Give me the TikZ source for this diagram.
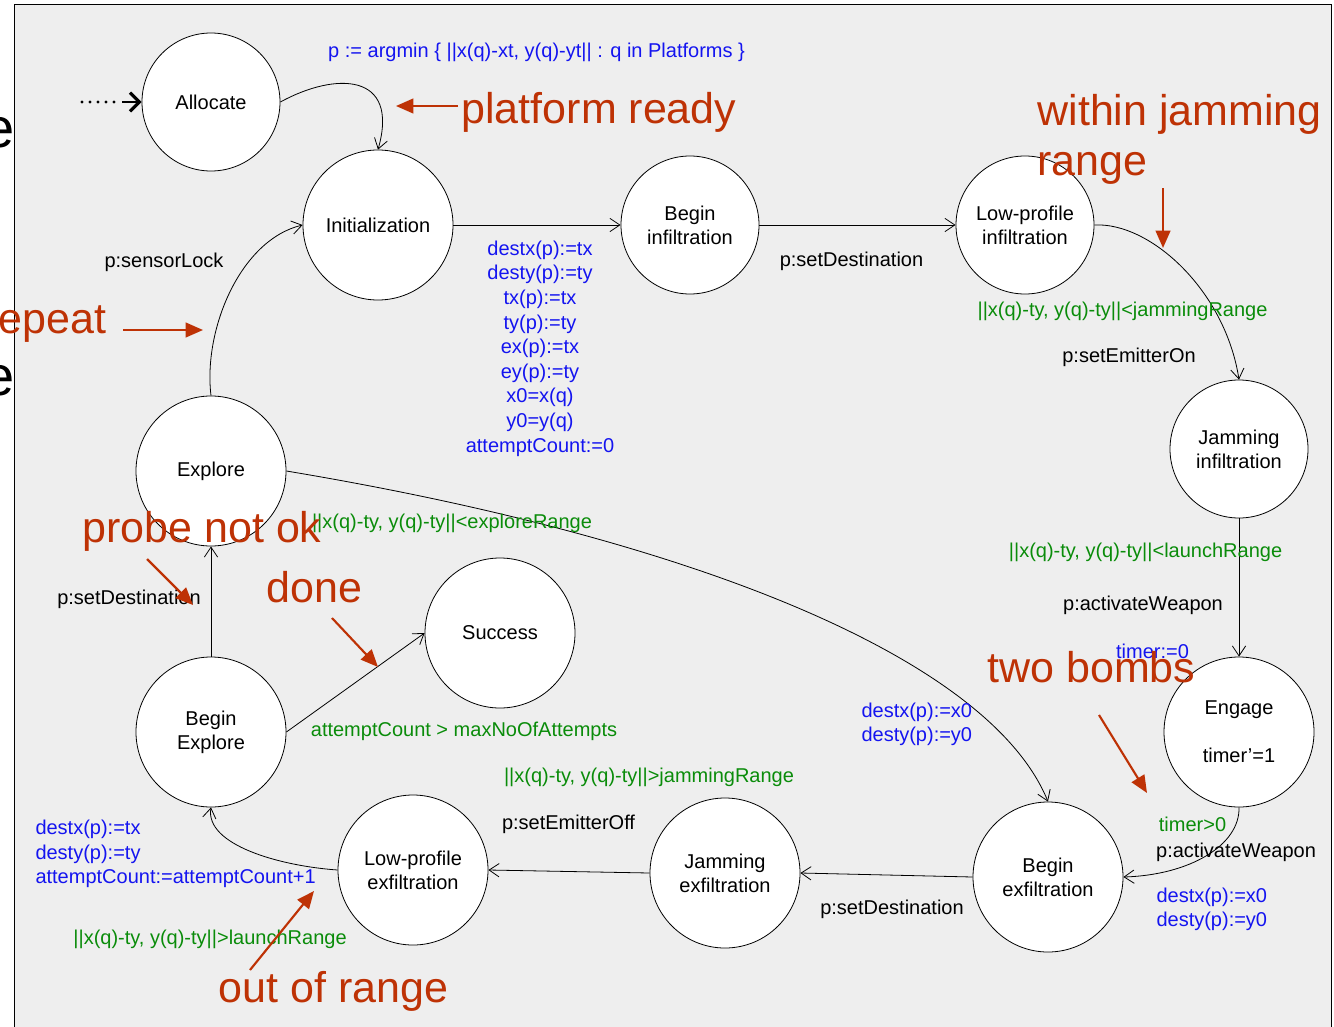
\documentclass[tikz,border=0pt]{standalone}
\usepackage{fontspec}
\setmainfont{Liberation Sans}
\usetikzlibrary{arrows.meta}
\definecolor{bggray}{RGB}{238,238,238}
\definecolor{annred}{RGB}{190,50,5}
\definecolor{updblue}{RGB}{20,20,240}
\definecolor{grdgreen}{RGB}{10,140,10}

\tikzset{every picture/.style={line width=0.75pt}}
\tikzset{
  bigstate/.style={circle,draw,fill=white,line width=0.6pt,minimum size=112.5pt,inner sep=0pt,align=center,font=\fontsize{15}{18}\selectfont},
  smallstate/.style={bigstate,minimum size=103.5pt},
  lbl/.style={inner sep=0.75pt,font=\fontsize{15}{18.45}\selectfont},
  guard/.style={lbl,text=grdgreen},
  upd/.style={lbl,text=updblue},
  remark/.style={inner sep=0pt,text=annred,font=\fontsize{32.25}{37.5}\selectfont},
  trans/.style={line width=0.6pt,-{Straight Barb[length=7.5pt,width=10pt]}},
  remarkarrow/.style={annred,line width=1.6pt,-{Triangle[length=13pt,width=11pt]}},
  entrydots/.style={line width=2.6pt,line cap=round,dash pattern={on 0pt off 6pt}},
  entrytip/.style={line width=2.2pt,-{Straight Barb[length=7pt,width=14pt,line width=2.4pt]}}
}

\begin{document}
\begin{tikzpicture}[x=0.75pt,y=0.75pt,yscale=-1,xscale=1]
\useasboundingbox (0,0) rectangle (1334,1027);
\clip (0,0) rectangle (1334,1027);
\fill [bggray] (14,4) rectangle (1331,1027);
\draw [line width=0.6pt] (14,1027) -- (14,4) -- (1331,4) -- (1331,1027);

\node [inner sep=0pt,anchor=base west,font=\fontsize{42}{50}\selectfont] (cutA) at (-17,147) {e};
\node [inner sep=0pt,anchor=base west,font=\fontsize{42}{50}\selectfont] (cutB) at (-17,395) {e};

\node [smallstate] (alloc) at (211,102) {Allocate};
\node [bigstate] (init) at (378,225) {Initialization};
\node [smallstate] (beginf) at (690,225) {Begin\\infiltration};
\node [smallstate] (lowinf) at (1025,225) {Low-profile\\infiltration};
\node [smallstate] (jaminf) at (1239,449) {Jamming\\infiltration};
\node [bigstate] (engage) at (1239,732) {Engage\\[18pt]timer'=1};
\node [bigstate] (bexf) at (1048,877) {Begin\\exfiltration};
\node [bigstate] (jamexf) at (725,873) {Jamming\\exfiltration};
\node [bigstate] (lowexf) at (413,870) {Low-profile\\exfiltration};
\node [bigstate] (bexp) at (211,732) {Begin\\Explore};
\node [bigstate] (explore) at (211,471) {Explore};
\node [bigstate] (success) at (500,633) {Success};

\coordinate (entry) at (82,102);
\coordinate (entryend) at (122,102);
\draw [entrydots] (entry) -- (entryend);
\draw [entrytip] (entryend) -- (alloc.west);
\draw [trans] (alloc.east) .. controls (335,72) and (400,72) .. (init.north);
\draw [trans] (init.east) -- (beginf.west);
\draw [trans] (beginf.east) -- (lowinf.west);
\draw [trans] (lowinf.east) .. controls (1150,222) and (1225,290) .. (jaminf.north);
\draw [trans] (jaminf.south) -- (engage.north);
\draw [trans] (engage.south) .. controls (1240,845) and (1190,875) .. (bexf.east);
\draw [trans] (bexf.west) -- (jamexf.east);
\draw [trans] (jamexf.west) -- (lowexf.east);
\draw [trans] (lowexf.west) .. controls (280,866) and (205,845) .. (bexp.south);
\draw [trans] (bexp.north) -- (explore.south);
\draw [trans] (bexp.east) -- (success.west);
\draw [trans] (explore.north) .. controls (203,330) and (240,240) .. (init.west);
\draw [trans] (explore.east) .. controls (700,540) and (990,660) .. (bexf.north);

\node [upd] (argminlbl) at (536.5,52) {p := argmin \{ ||x(q)-xt, y(q)-yt|| : q in Platforms \}};
\node [lbl] (sensorlbl) at (164,262) {p:sensorLock};
\node [upd,align=center] (initupd) at (540,348.5) {destx(p):=tx\\desty(p):=ty\\tx(p):=tx\\ty(p):=ty\\ex(p):=tx\\ey(p):=ty\\x0=x(q)\\y0=y(q)\\attemptCount:=0};
\node [lbl] (destlblA) at (851.5,261) {p:setDestination};
\node [guard] (jamguard) at (1122.5,311) {||x(q)-ty, y(q)-ty||<jammingRange};
\node [lbl] (emitonlbl) at (1129,357) {p:setEmitterOn};
\node [guard] (launchguard) at (1145.5,552) {||x(q)-ty, y(q)-ty||<launchRange};
\node [lbl] (weaponlblA) at (1143,605) {p:activateWeapon};
\node [upd] (timerupd) at (1152.5,651) {timer:=0};
\node [guard] (timerguard) at (1192.5,824) {timer>0};
\node [lbl] (weaponlblB) at (1236,852) {p:activateWeapon};
\node [upd,align=left,anchor=west] (homeupdA) at (1155,909.5) {destx(p):=x0\\desty(p):=y0};
\node [lbl] (destlblB) at (892,909) {p:setDestination};
\node [upd,align=left,anchor=west] (homeupdB) at (860,724.5) {destx(p):=x0\\desty(p):=y0};
\node [guard] (jamoffguard) at (649,777) {||x(q)-ty, y(q)-ty||>jammingRange};
\node [lbl] (emitofflbl) at (568.5,824) {p:setEmitterOff};
\node [guard] (attemptguard) at (464,731) {attemptCount > maxNoOfAttempts};
\node [guard] (exploreguard) at (452,523) {||x(q)-ty, y(q)-ty||<exploreRange};
\node [lbl] (destlblC) at (129,599) {p:setDestination};
\node [upd,align=left,anchor=west] (retryupd) at (34,854) {destx(p):=tx\\desty(p):=ty\\attemptCount:=attemptCount+1};
\node [guard] (outguard) at (210,939) {||x(q)-ty, y(q)-ty||>launchRange};

\node [remark,anchor=base west] (readynote) at (461,124) {platform ready};
\node [remark,anchor=north west,align=left] (jamnote) at (1037,94) {within jamming\\range};
\node [remark,anchor=base west] (repeatnote) at (-2,333) {epeat};
\node [remark,anchor=base west] (probenote) at (82,542) {probe not ok};
\node [remark,anchor=base west] (donenote) at (266,602) {done};
\node [remark,anchor=base west] (bombnote) at (987,682) {two bombs};
\node [remark,anchor=base west] (rangenote) at (218,1002) {out of range};

\coordinate (readyA) at (458,106);
\coordinate (readyB) at (396,106);
\coordinate (jamA) at (1163,188);
\coordinate (jamB) at (1163,248);
\coordinate (repeatA) at (123,330);
\coordinate (repeatB) at (203,330);
\coordinate (probeA) at (147,559);
\coordinate (probeB) at (193,605);
\coordinate (doneA) at (332,618);
\coordinate (doneB) at (378,667);
\coordinate (bombA) at (1099,715);
\coordinate (bombB) at (1147,793);
\coordinate (rangeA) at (250,970);
\coordinate (rangeB) at (314,891);
\draw [remarkarrow] (readyA) -- (readyB);
\draw [remarkarrow] (jamA) -- (jamB);
\draw [remarkarrow] (repeatA) -- (repeatB);
\draw [remarkarrow] (probeA) -- (probeB);
\draw [remarkarrow] (doneA) -- (doneB);
\draw [remarkarrow] (bombA) -- (bombB);
\draw [remarkarrow] (rangeA) -- (rangeB);
\end{tikzpicture}
\end{document}
